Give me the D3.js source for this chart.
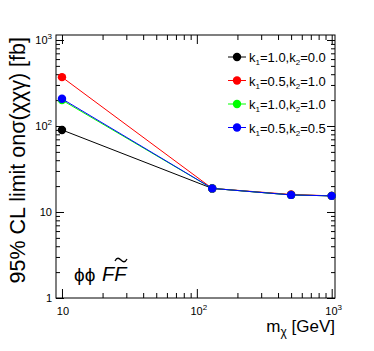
<!DOCTYPE html>
<html>
<head>
<meta charset="utf-8">
<script src="https://d3js.org/d3.v7.min.js"></script>
<style>
  body { margin: 0; background: #fff; }
  text { font-family: "Liberation Sans", Arial, sans-serif; }
</style>
</head>
<body>
<div id="chart"></div>
<script>
// dark matter mass points [GeV]
const mass = [10, 130, 500, 1000];

// 95% CL limits [fb] for each coupling choice
const limK10K20 = [90, 18.8, 15.8, 15.4];
const limK05K10 = [370, 18.8, 16.0, 15.4];
const limK10K10 = [200, 18.8, 15.8, 15.4];
const limK05K05 = [207, 18.8, 15.8, 15.4];

const seriesNames = [["1.0", "0.0"], ["0.5", "1.0"], ["1.0", "1.0"], ["0.5", "0.5"]];
const seriesColors = ["#000000", "#ff0000", "#00ff00", "#0000ff"];

const xMajor = [10, 100, 1000];
const yMajor = [1, 10, 100, 1000];

const width = 374, height = 351;
const margin = { top: 35, right: 39, bottom: 53, left: 56 };

const svg = d3.select("#chart").append("svg")
    .attr("width", width).attr("height", height);

const x = d3.scaleLog().domain([9.03, 1058]).range([margin.left, width - margin.right]);
const y = d3.scaleLog().domain([1, 1143]).range([height - margin.bottom, margin.top]);

// minor ticks 2..9 of each decade
function minors(scale) {
    const d = scale.domain();
    const out = [];
    for (let p = Math.floor(Math.log10(d[0])); p <= Math.ceil(Math.log10(d[1])); p++) {
        for (let m = 2; m <= 9; m++) {
            const v = m * Math.pow(10, p);
            if (v >= d[0] && v <= d[1]) out.push(v);
        }
    }
    return out;
}

function ticks(g, axisFn, scale, vals, size) {
    g.call(axisFn(scale).tickValues(vals).tickSizeInner(-size).tickSizeOuter(0).tickFormat(""));
    g.select(".domain").remove();
    g.selectAll("line").attr("stroke", "#000");
}

const x0 = margin.left, x1 = width - margin.right;
const y0 = height - margin.bottom, y1 = margin.top;

// bottom
ticks(svg.append("g").attr("transform", `translate(0,${y0})`), d3.axisBottom, x, xMajor, 9);
ticks(svg.append("g").attr("transform", `translate(0,${y0})`), d3.axisBottom, x, minors(x), 5);
// top
ticks(svg.append("g").attr("transform", `translate(0,${y1})`), d3.axisTop, x, xMajor, 9);
ticks(svg.append("g").attr("transform", `translate(0,${y1})`), d3.axisTop, x, minors(x), 5);
// left
ticks(svg.append("g").attr("transform", `translate(${x0},0)`), d3.axisLeft, y, yMajor, 8);
ticks(svg.append("g").attr("transform", `translate(${x0},0)`), d3.axisLeft, y, minors(y), 4);
// right
ticks(svg.append("g").attr("transform", `translate(${x1},0)`), d3.axisRight, y, yMajor, 8);
ticks(svg.append("g").attr("transform", `translate(${x1},0)`), d3.axisRight, y, minors(y), 4);

// frame
svg.append("rect")
    .attr("x", x0).attr("y", y1)
    .attr("width", x1 - x0).attr("height", y0 - y1)
    .attr("fill", "none").attr("stroke", "#000").attr("stroke-width", 1);

// tick labels, ROOT style 10^n
function powLabel(t, v) {
    const p = Math.round(Math.log10(v));
    if (p === 0) t.text("1");
    else if (p === 1) t.text("10");
    else {
        t.append("tspan").text("10");
        t.append("tspan").attr("dy", -5).attr("font-size", 8).text(p);
    }
}

svg.append("g").selectAll("text").data(xMajor).join("text")
    .attr("x", d => x(d) + (d > 10 ? 2 : 1))
    .attr("y", y0 + 17)
    .attr("text-anchor", "middle")
    .attr("font-size", 11)
    .each(function (d) { powLabel(d3.select(this), d); });

svg.append("g").selectAll("text").data(yMajor).join("text")
    .attr("x", x0 - 4)
    .attr("y", d => y(d) + 4)
    .attr("text-anchor", "end")
    .attr("font-size", 11)
    .each(function (d) { powLabel(d3.select(this), d); });

// axis titles
const xt = svg.append("text")
    .attr("x", x1).attr("y", 332)
    .attr("text-anchor", "end")
    .attr("font-size", 17);
xt.append("tspan").text("m");
xt.append("tspan").attr("dy", 4).attr("font-size", 12).text("χ");
xt.append("tspan").attr("dy", -4).text(" [GeV]");

svg.append("text")
    .attr("transform", `translate(25,${y1 + 2}) rotate(-90)`)
    .attr("text-anchor", "end")
    .attr("font-size", 21.5)
    .text("95% CL limit onσ(χχγ) [fb]");

// series
const series = [limK10K20, limK05K10, limK10K10, limK05K05];
const line = d3.line().x(d => x(d[0])).y(d => y(d[1]));

series.forEach((vals, i) => {
    const pts = mass.map((m, j) => [m, vals[j]]);
    svg.append("path")
        .attr("d", line(pts))
        .attr("fill", "none")
        .attr("stroke", seriesColors[i])
        .attr("stroke-width", 1);
    svg.append("g").selectAll("circle").data(pts).join("circle")
        .attr("cx", d => x(d[0]))
        .attr("cy", d => y(d[1]))
        .attr("r", 4.2)
        .attr("fill", seriesColors[i]);
});

// legend
const leg = svg.append("g").selectAll("g").data(seriesNames).join("g")
    .attr("transform", (d, i) => `translate(237,${57 + i * 23.5})`);
leg.append("line")
    .attr("x1", -9).attr("x2", 9)
    .attr("stroke", (d, i) => seriesColors[i]);
leg.append("circle").attr("r", 4.2).attr("fill", (d, i) => seriesColors[i]);
leg.each(function (d) {
    const t = d3.select(this).append("text")
        .attr("x", 12).attr("y", 5)
        .attr("font-size", 13);
    t.append("tspan").text("k");
    t.append("tspan").attr("dy", 3).attr("font-size", 8).text("1");
    t.append("tspan").attr("dy", -3).text("=" + d[0] + ",k");
    t.append("tspan").attr("dy", 3).attr("font-size", 8).text("2");
    t.append("tspan").attr("dy", -3).text("=" + d[1]);
});

// model label
const lab = svg.append("g").attr("transform", "translate(74,281)");
lab.append("text").attr("font-size", 19).text("ϕϕ");
lab.append("text").attr("x", 28).attr("font-size", 20).attr("font-style", "italic").text("FF");
// tilde over the second F
lab.append("path")
    .attr("d", "M41,-20 C43,-24 45,-23 47,-21 C49,-19 51,-18 53,-22")
    .attr("fill", "none").attr("stroke", "#000").attr("stroke-width", 1.3);
</script>
</body>
</html>
